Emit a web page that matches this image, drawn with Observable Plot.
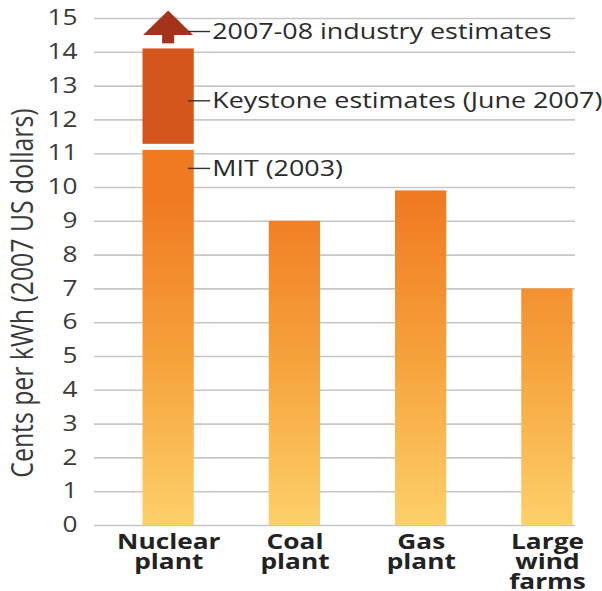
<!DOCTYPE html>
<html>
<head>
<meta charset="utf-8">
<script src="https://cdn.jsdelivr.net/npm/d3@7"></script>
<script src="https://cdn.jsdelivr.net/npm/@observablehq/plot@0.6"></script>
<style>
  html, body { margin: 0; padding: 0; background: #fff; }
  #chart svg { display: block; }
</style>
</head>
<body>
<div id="chart"></div>
<script>
// ---- Data ----
const categories = ["Nuclear plant", "Coal plant", "Gas plant", "Large wind farms"];
const categoryLabels = ["Nuclear\nplant", "Coal\nplant", "Gas\nplant", "Large\nwind\nfarms"];
const costs = [11.1, 9.0, 9.9, 7.0];           // base estimates (MIT 2003 for nuclear)
const keystoneRange = [11.1, 14.1];            // Keystone estimates (June 2007)
const industryArrow = [14.25, 14.5, 15.22];    // 2007-08 industry estimates: shaft start, head base, tip
const annotations = ["2007-08 industry estimates", "Keystone estimates (June 2007)", "MIT (2003)"];
const annotationValues = [14.6, 12.55, 10.55];
const yTicks = [0, 1, 2, 3, 4, 5, 6, 7, 8, 9, 10, 11, 12, 13, 14, 15];
const yLabel = "Cents per kWh (2007 US dollars)";

const barData = categories.map((c, i) => ({category: c, value: costs[i]}));
const keystoneData = [{category: categories[0], y1: keystoneRange[0], y2: keystoneRange[1]}];
const annotationData = annotations.map((t, i) => ({category: categories[0], text: t, value: annotationValues[i]}));

// The original artwork is horizontally stretched; draw in a narrower space and stretch the SVG.
const SX = 1.25;
const W = 602, H = 591, VW = W / SX;

// Custom render: gradient defs, arrow and leader lines, using Plot's scales
function decorations(index, scales) {
  const x = scales.x, y = scales.y;
  const bw = x.bandwidth ? x.bandwidth() : 41;
  const cx = x(categories[0]) + bw / 2;
  const g = d3.create("svg:g");
  const grad = g.append("defs").append("linearGradient")
    .attr("id", "barGrad")
    .attr("gradientUnits", "userSpaceOnUse")
    .attr("x1", 0).attr("x2", 0)
    .attr("y1", y(0)).attr("y2", y(9.6));
  grad.append("stop").attr("offset", 0).attr("stop-color", "#fdd06a");
  grad.append("stop").attr("offset", 0.5).attr("stop-color", "#f6a33c");
  grad.append("stop").attr("offset", 1).attr("stop-color", "#f07a22");
  // arrow shaft + head
  const [s0, hb, tip] = industryArrow.map(v => y(v));
  g.append("rect")
    .attr("x", cx - 4.8).attr("width", 9.6)
    .attr("y", hb - 0.5).attr("height", s0 - hb + 0.5)
    .attr("fill", "#a5321a");
  g.append("path")
    .attr("d", `M${cx - 20},${hb}L${cx},${tip}L${cx + 20},${hb}Z`)
    .attr("fill", "#a5321a");
  // leader lines
  annotationValues.forEach(v => {
    g.append("line")
      .attr("x1", cx + 16).attr("x2", cx + 33.6)
      .attr("y1", y(v)).attr("y2", y(v))
      .attr("stroke", "#333").attr("stroke-width", 1.4);
  });
  return g.node();
}

const chart = Plot.plot({
  width: VW,
  height: H,
  marginTop: 18,
  marginBottom: 66,
  marginLeft: 94 / SX,
  marginRight: 27 / SX,
  style: {fontFamily: "'Open Sans', sans-serif", background: "#fff", color: "#333"},
  x: {type: "band", domain: categories, range: [142 / SX, 572 / SX], paddingInner: 0.596, paddingOuter: 0},
  y: {domain: [0, 15]},
  marks: [
    Plot.gridY(yTicks, {stroke: "#c6c6c6", strokeOpacity: 1, strokeWidth: 1.6}),
    Plot.axisY(yTicks, {tickSize: 0, tickPadding: 13.6, fontSize: 21, label: null, fill: "#3a3a3a"}),
    Plot.text([yLabel], {frameAnchor: "left", textAnchor: "middle", rotate: -90, dx: 17.6 - 94 / SX, dy: 21,
      fontSize: 24.8, fill: "#3a3a3a"}),
    Plot.axisX({tickSize: 0, tickPadding: 9.5, fontSize: 21, fontWeight: "bold", fill: "#222",
      label: null, lineHeight: 0.95, tickFormat: d => categoryLabels[categories.indexOf(d)]}),
    Plot.barY(barData, {x: "category", y: "value", fill: "url(#barGrad)"}),
    Plot.barY(keystoneData, {x: "category", y1: "y1", y2: "y2", fill: "#d4561c", insetBottom: 6}),
    decorations,
    Plot.text(annotationData, {x: "category", y: "value", text: "text", dx: 43.5 / SX, textAnchor: "start",
      fontSize: 21.5, fill: "#2a2a2a"})
  ]
});
chart.setAttribute("viewBox", `0 0 ${VW} ${H}`);
chart.setAttribute("width", W);
chart.setAttribute("height", H);
chart.setAttribute("preserveAspectRatio", "none");
chart.style.maxWidth = "none";
chart.style.width = W + "px";
chart.style.height = H + "px";
document.getElementById("chart").appendChild(chart);
</script>
</body>
</html>
